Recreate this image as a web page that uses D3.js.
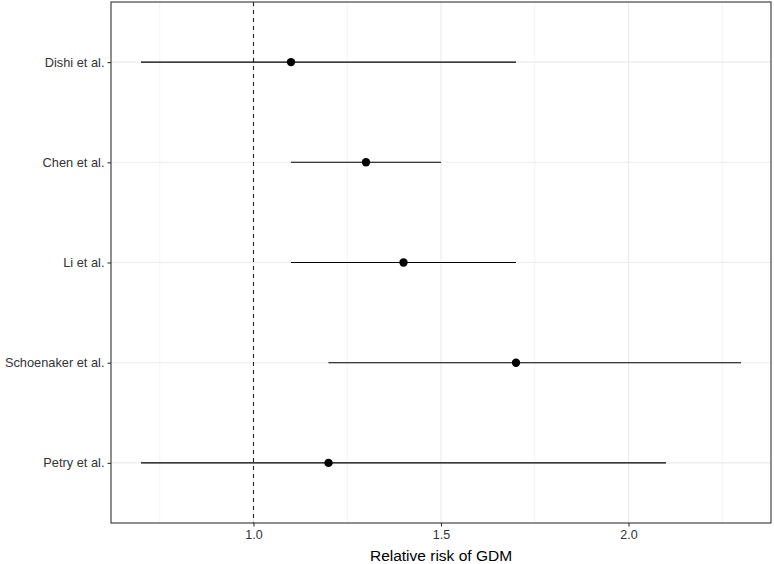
<!DOCTYPE html>
<html>
<head>
<meta charset="utf-8">
<script src="https://cdn.jsdelivr.net/npm/d3@7"></script>
<style>
  body { margin: 0; background: #fff; }
  svg { display: block; font-family: "Liberation Sans", Arial, sans-serif; }
</style>
</head>
<body>
<div id="main"></div>
<script>
const studies = ["Dishi et al.", "Chen et al.", "Li et al.", "Schoenaker et al.", "Petry et al."];
const rr = [1.1, 1.3, 1.4, 1.7, 1.2];
const lower = [0.7, 1.1, 1.1, 1.2, 0.7];
const upper = [1.7, 1.5, 1.7, 2.3, 2.1];
const xTicks = [1.0, 1.5, 2.0];
const xMinor = [0.75, 1.25, 1.75, 2.25];

const width = 774, height = 564;
const m = {top: 2, right: 3, bottom: 41, left: 111};

const rows = studies.map((s, i) => ({study: s, rr: rr[i], lo: lower[i], hi: upper[i]}));

const svg = d3.select("#main").append("svg")
  .attr("width", width)
  .attr("height", height);

// ggplot-style 5% expansion
const xmin = d3.min(lower), xmax = d3.max(upper);
const pad = (xmax - xmin) * 0.05;
const x = d3.scaleLinear()
  .domain([xmin - pad, xmax + pad])
  .range([m.left, width - m.right]);

const y = d3.scalePoint()
  .domain(studies)
  .range([m.top, height - m.bottom])
  .padding(0.6);

// grid
const g = svg.append("g");
g.selectAll(".minor").data(xMinor).join("line")
  .attr("x1", d => x(d)).attr("x2", d => x(d))
  .attr("y1", m.top).attr("y2", height - m.bottom)
  .attr("stroke", "#ebebeb").attr("stroke-width", 0.6);
g.selectAll(".major").data(xTicks).join("line")
  .attr("x1", d => x(d)).attr("x2", d => x(d))
  .attr("y1", m.top).attr("y2", height - m.bottom)
  .attr("stroke", "#ebebeb").attr("stroke-width", 1.1);
g.selectAll(".hmajor").data(studies).join("line")
  .attr("x1", m.left).attr("x2", width - m.right)
  .attr("y1", d => y(d)).attr("y2", d => y(d))
  .attr("stroke", "#ebebeb").attr("stroke-width", 1.1);

// reference line
svg.append("line")
  .attr("x1", x(1)).attr("x2", x(1))
  .attr("y1", m.top).attr("y2", height - m.bottom)
  .attr("stroke", "#222").attr("stroke-width", 1.1)
  .attr("stroke-dasharray", "4,4");

// intervals and points
svg.selectAll(".ci").data(rows).join("line")
  .attr("x1", d => x(d.lo)).attr("x2", d => x(d.hi))
  .attr("y1", d => y(d.study)).attr("y2", d => y(d.study))
  .attr("stroke", "#000").attr("stroke-width", 1.1);

svg.selectAll(".pt").data(rows).join("circle")
  .attr("cx", d => x(d.rr)).attr("cy", d => y(d.study))
  .attr("r", 4.2).attr("fill", "#000");

// axes
const xAxis = svg.append("g")
  .attr("transform", `translate(0,${height - m.bottom})`)
  .call(d3.axisBottom(x).tickValues(xTicks).tickFormat(d3.format(".1f")).tickSize(3.5).tickPadding(4));
xAxis.select(".domain").remove();
xAxis.selectAll(".tick line").attr("stroke", "#333").attr("stroke-width", 1.1);
xAxis.selectAll("text").attr("fill", "#333").attr("font-size", 12.5);

const yAxis = svg.append("g")
  .attr("transform", `translate(${m.left},0)`)
  .call(d3.axisLeft(y).tickSize(3.5).tickPadding(3));
yAxis.select(".domain").remove();
yAxis.selectAll(".tick line").attr("stroke", "#333").attr("stroke-width", 1.1);
yAxis.selectAll("text").attr("fill", "#333").attr("font-size", 12.8);

// panel border
svg.append("rect")
  .attr("x", m.left).attr("y", m.top)
  .attr("width", width - m.right - m.left)
  .attr("height", height - m.bottom - m.top)
  .attr("fill", "none").attr("stroke", "#333").attr("stroke-width", 1.1);

svg.append("text")
  .attr("x", (m.left + width - m.right) / 2)
  .attr("y", height - 3)
  .attr("text-anchor", "middle")
  .attr("font-size", 15.5)
  .attr("fill", "#000")
  .text("Relative risk of GDM");
</script>
</body>
</html>
